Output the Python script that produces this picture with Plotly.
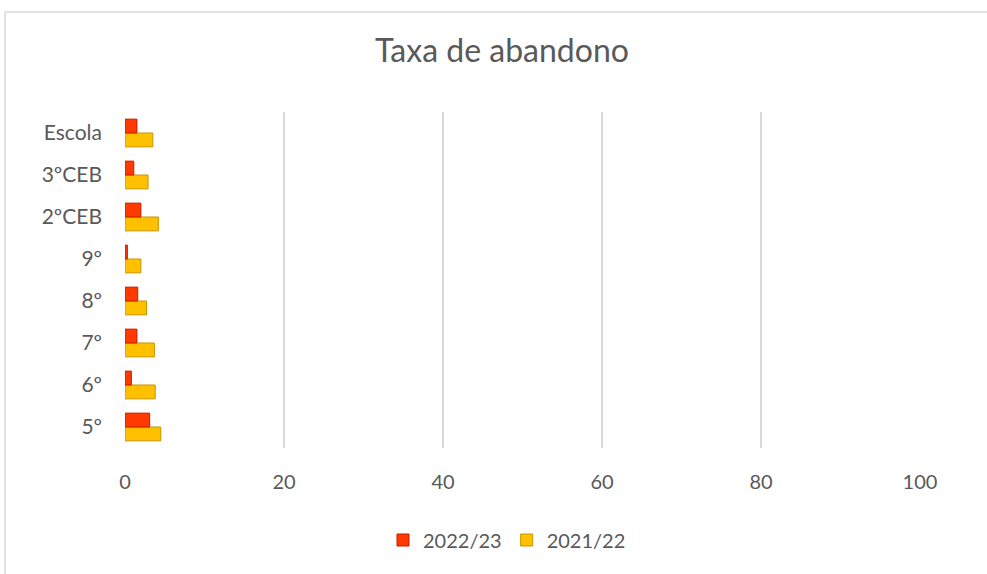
import plotly.graph_objects as go

categories = ["5º", "6º", "7º", "8º", "9º", "2ºCEB", "3ºCEB", "Escola"]
values_2022_23 = [3.1, 0.8, 1.5, 1.6, 0.3, 2.0, 1.1, 1.5]
values_2021_22 = [4.5, 3.8, 3.7, 2.7, 2.0, 4.2, 2.9, 3.5]
x_ticks = [0, 20, 40, 60, 80, 100]

TEXT = "#595959"
FONT = "Lato, 'Open Sans', sans-serif"

fig = go.Figure()
fig.add_trace(go.Bar(
    y=categories, x=values_2021_22, orientation="h", name="2021/22",
    marker=dict(color="#ffc000", line=dict(color="#c99500", width=1)),
))
fig.add_trace(go.Bar(
    y=categories, x=values_2022_23, orientation="h", name="2022/23",
    marker=dict(color="#ff3a00", line=dict(color="#c41e00", width=1)),
))

W, H = 987, 574
L, R = 125, 920
T, B = 112, 448
pw, ph = R - L, B - T

def px_x(p):
    return (p - L) / pw

def px_y(p):
    return (B - p) / ph

fig.update_layout(
    width=W, height=H,
    margin=dict(l=L, r=W - R, t=T, b=H - B, pad=0),
    paper_bgcolor="white", plot_bgcolor="white",
    barmode="group", bargap=0.34, bargroupgap=0.0,
    font=dict(family=FONT, color=TEXT, size=20),
    title=dict(text="Taxa de abandono", x=502 / W, xanchor="center",
               y=1 - 51 / H, yanchor="middle",
               font=dict(size=32, color=TEXT, family=FONT)),
    xaxis=dict(range=[0, 100], tickvals=x_ticks, showgrid=True,
               gridcolor="#d9d9d9", gridwidth=1.5, zeroline=False,
               showline=False, ticks="", ticklabelstandoff=20,
               tickfont=dict(size=20, color=TEXT)),
    yaxis=dict(categoryorder="array", categoryarray=categories,
               showgrid=False, zeroline=False, showline=False, ticks="",
               ticklabelstandoff=22, tickfont=dict(size=21, color=TEXT)),
    legend=dict(orientation="h", x=px_x(507), xanchor="center",
                y=px_y(540), yanchor="middle", traceorder="reversed",
                font=dict(size=20, color=TEXT)),
    showlegend=True,
    shapes=[
        dict(type="line", xref="paper", yref="paper",
             x0=px_x(5), x1=px_x(5), y0=px_y(12), y1=px_y(600),
             line=dict(color="#d9d9d9", width=1.5)),
        dict(type="line", xref="paper", yref="paper",
             x0=px_x(5), x1=px_x(1000), y0=px_y(12), y1=px_y(12),
             line=dict(color="#d9d9d9", width=1.5)),
    ],
)

fig.write_html(
    "out.html",
    config={"displayModeBar": False},
    post_script="document.body.style.margin='0';document.body.style.overflow='hidden';",
)
